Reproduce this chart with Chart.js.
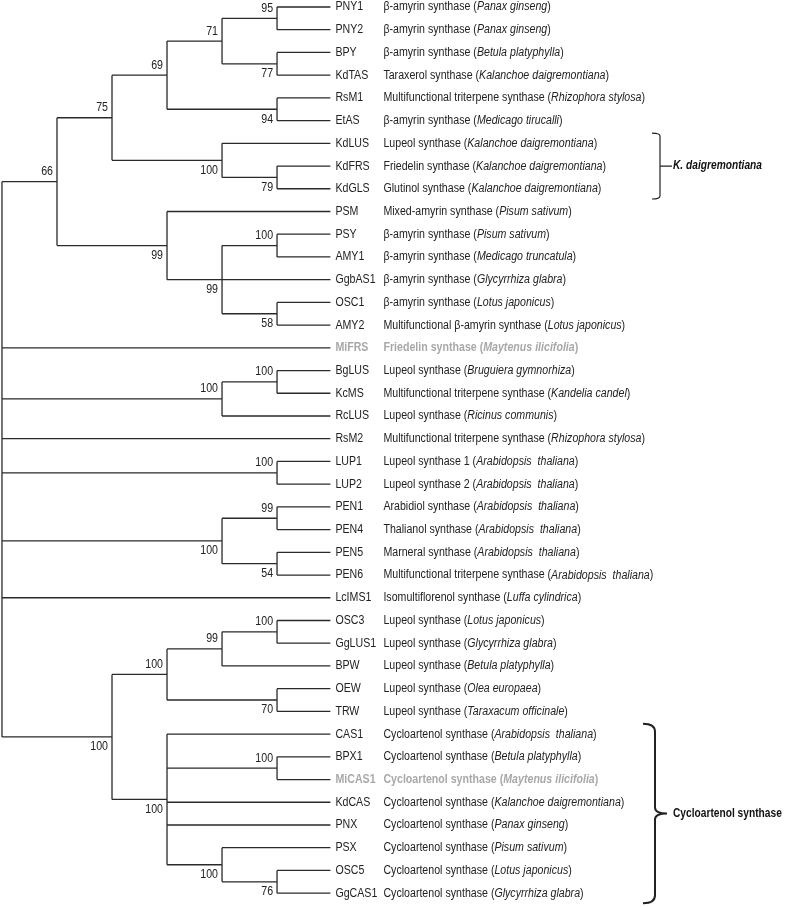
<!DOCTYPE html>
<html>
<head>
<meta charset="utf-8">
<script src="https://cdn.jsdelivr.net/npm/chart.js@4"></script>
<style>
  body { margin: 0; background: #fff; }
  canvas { display: block; }
</style>
</head>
<body>
<canvas id="tree" width="787" height="907"></canvas>
<script>
// leaves, top to bottom
const leafNames = ['PNY1', 'PNY2', 'BPY', 'KdTAS', 'RsM1', 'EtAS', 'KdLUS', 'KdFRS', 'KdGLS', 'PSM',
  'PSY', 'AMY1', 'GgbAS1', 'OSC1', 'AMY2', 'MiFRS', 'BgLUS', 'KcMS', 'RcLUS', 'RsM2',
  'LUP1', 'LUP2', 'PEN1', 'PEN4', 'PEN5', 'PEN6', 'LcIMS1', 'OSC3', 'GgLUS1', 'BPW',
  'OEW', 'TRW', 'CAS1', 'BPX1', 'MiCAS1', 'KdCAS', 'PNX', 'PSX', 'OSC5', 'GgCAS1'];

const enzymes = ['β-amyrin synthase', 'β-amyrin synthase', 'β-amyrin synthase', 'Taraxerol synthase',
  'Multifunctional triterpene synthase', 'β-amyrin synthase', 'Lupeol synthase', 'Friedelin synthase',
  'Glutinol synthase', 'Mixed-amyrin synthase', 'β-amyrin synthase', 'β-amyrin synthase',
  'β-amyrin synthase', 'β-amyrin synthase', 'Multifunctional β-amyrin synthase', 'Friedelin synthase',
  'Lupeol synthase', 'Multifunctional triterpene synthase', 'Lupeol synthase', 'Multifunctional triterpene synthase',
  'Lupeol synthase 1', 'Lupeol synthase 2', 'Arabidiol synthase', 'Thalianol synthase',
  'Marneral synthase', 'Multifunctional triterpene synthase', 'Isomultiflorenol synthase', 'Lupeol synthase',
  'Lupeol synthase', 'Lupeol synthase', 'Lupeol synthase', 'Lupeol synthase',
  'Cycloartenol synthase', 'Cycloartenol synthase', 'Cycloartenol synthase', 'Cycloartenol synthase',
  'Cycloartenol synthase', 'Cycloartenol synthase', 'Cycloartenol synthase', 'Cycloartenol synthase'];

const species = ['Panax ginseng', 'Panax ginseng', 'Betula platyphylla', 'Kalanchoe daigremontiana',
  'Rhizophora stylosa', 'Medicago tirucalli', 'Kalanchoe daigremontiana', 'Kalanchoe daigremontiana',
  'Kalanchoe daigremontiana', 'Pisum sativum', 'Pisum sativum', 'Medicago truncatula',
  'Glycyrrhiza glabra', 'Lotus japonicus', 'Lotus japonicus', 'Maytenus ilicifolia',
  'Bruguiera gymnorhiza', 'Kandelia candel', 'Ricinus communis', 'Rhizophora stylosa',
  'Arabidopsis  thaliana', 'Arabidopsis  thaliana', 'Arabidopsis  thaliana', 'Arabidopsis  thaliana',
  'Arabidopsis  thaliana', 'Arabidopsis  thaliana', 'Luffa cylindrica', 'Lotus japonicus',
  'Glycyrrhiza glabra', 'Betula platyphylla', 'Olea europaea', 'Taraxacum officinale',
  'Arabidopsis  thaliana', 'Betula platyphylla', 'Maytenus ilicifolia', 'Kalanchoe daigremontiana',
  'Panax ginseng', 'Pisum sativum', 'Lotus japonicus', 'Glycyrrhiza glabra'];

const greyLeaves = ['MiFRS', 'MiCAS1'];

// internal node each leaf hangs from
const leafParent = [5, 5, 6, 6, 7, 7, 8, 9, 9, 10, 12, 12, 11, 13, 13, 0, 15, 15, 14, 0,
  16, 16, 18, 18, 19, 19, 0, 23, 23, 22, 24, 24, 25, 26, 26, 25, 25, 27, 28, 28];

// internal nodes (0 = root): parent, depth, bootstrap, side of the value
const nodeParent = [null, 0, 1, 2, 3, 4, 4, 3, 2, 8, 1, 10, 11, 11, 0, 14, 0, 0, 17, 17, 0, 20, 21, 22, 21, 20, 25, 25, 27];
const nodeDepth = [0, 1, 2, 3, 4, 5, 5, 5, 4, 5, 3, 4, 5, 5, 4, 5, 5, 4, 5, 5, 2, 3, 4, 5, 5, 3, 5, 4, 5];
const bootstrap = [null, 66, 75, 69, 71, 95, 77, 94, 100, 79, 99, 99, 100, 58, 100, 100, 100, 100, 99, 54, 100, 100, 99, 100, 70, 100, 100, 100, 76];
const labelSide = ['', 'a', 'a', 'a', 'a', 'a', 'b', 'b', 'b', 'b', 'b', 'b', 'a', 'b', 'a', 'a', 'a', 'b', 'a', 'b', 'b', 'a', 'a', 'a', 'b', 'b', 'a', 'b', 'b'];
const tipDepth = 5.97;

const groups = [
  { label: 'K. daigremontiana', first: 'KdLUS', last: 'KdGLS', italic: true, curly: false },
  { label: 'Cycloartenol synthase', first: 'CAS1', last: 'GgCAS1', italic: false, curly: true }
];

document.addEventListener('DOMContentLoaded', () => {
  const ctx = document.getElementById('tree').getContext('2d');
  const FONT = '"Liberation Sans", Arial, sans-serif';
  const SIZE = '12.5px ';
  const SX = 0.85; // the figure uses a narrow face, squeeze the text a bit

  // y of every internal node = middle of its outermost children
  const nodeY = [];
  const nodeMin = [];
  const nodeMax = [];
  function placeNode(n) {
    if (nodeY[n] !== undefined) return nodeY[n];
    const ys = [];
    leafParent.forEach((p, i) => { if (p === n) ys.push(i); });
    nodeParent.forEach((p, k) => { if (p === n) ys.push(placeNode(k)); });
    nodeMin[n] = Math.min(...ys);
    nodeMax[n] = Math.max(...ys);
    nodeY[n] = (nodeMin[n] + nodeMax[n]) / 2;
    return nodeY[n];
  }
  nodeParent.forEach((p, n) => placeNode(n));

  // branches as one broken line
  const segments = [];
  const gap = { x: null, y: null };
  leafParent.forEach((p, i) => {
    segments.push({ x: nodeDepth[p], y: i }, { x: tipDepth, y: i }, gap);
  });
  nodeParent.forEach((p, n) => {
    if (p !== null) segments.push({ x: nodeDepth[p], y: nodeY[n] }, { x: nodeDepth[n], y: nodeY[n] }, gap);
    segments.push({ x: nodeDepth[n], y: nodeMin[n] }, { x: nodeDepth[n], y: nodeMax[n] }, gap);
  });

  // draws squeezed text, returns its width on screen
  function put(c, text, x, y, align) {
    const w = c.measureText(text).width * SX;
    const left = align === 'right' ? x - w : x;
    c.save();
    c.translate(left, y);
    c.scale(SX, 1);
    c.textAlign = 'left';
    c.fillText(text, 0, 0);
    c.restore();
    return w;
  }

  const treeText = {
    id: 'treeText',
    afterDatasetsDraw(chart) {
      const c = chart.ctx;
      const xs = chart.scales.x;
      const ys = chart.scales.y;
      c.save();
      c.textBaseline = 'middle';

      // bootstrap values
      c.fillStyle = '#222';
      c.font = SIZE + FONT;
      bootstrap.forEach((b, n) => {
        if (b === null) return;
        const px = xs.getPixelForValue(nodeDepth[n]) - 4;
        const py = ys.getPixelForValue(nodeY[n]) + (labelSide[n] === 'a' ? -10 : 10);
        put(c, String(b), px, py, 'right');
      });

      // leaf names and descriptions
      const tipX = xs.getPixelForValue(tipDepth);
      leafNames.forEach((name, i) => {
        const py = ys.getPixelForValue(i);
        const grey = greyLeaves.includes(name);
        const weight = grey ? 'bold ' : '';
        c.fillStyle = grey ? '#a8a8a8' : '#222';
        c.font = weight + SIZE + FONT;
        put(c, name, tipX + 5, py);
        let dx = tipX + 53;
        dx += put(c, enzymes[i] + ' (', dx, py);
        c.font = 'italic ' + weight + SIZE + FONT;
        dx += put(c, species[i], dx, py);
        c.font = weight + SIZE + FONT;
        put(c, ')', dx, py);
      });

      // clade brackets
      c.strokeStyle = '#222';
      c.fillStyle = '#111';
      groups.forEach(g => {
        const top = ys.getPixelForValue(leafNames.indexOf(g.first) - 0.45);
        const bot = ys.getPixelForValue(leafNames.indexOf(g.last) + 0.45);
        const mid = (top + bot) / 2;
        c.beginPath();
        if (g.curly) {
          const bx = 655;
          c.lineWidth = 2;
          c.moveTo(bx - 12, top);
          c.quadraticCurveTo(bx, top, bx, top + 8);
          c.lineTo(bx, mid - 6);
          c.quadraticCurveTo(bx, mid, bx + 12, mid);
          c.quadraticCurveTo(bx, mid, bx, mid + 6);
          c.lineTo(bx, bot - 8);
          c.quadraticCurveTo(bx, bot, bx - 12, bot);
        } else {
          const bx = 660;
          c.lineWidth = 1.2;
          c.moveTo(bx - 8, top);
          c.quadraticCurveTo(bx, top, bx, top + 3);
          c.lineTo(bx, bot - 3);
          c.quadraticCurveTo(bx, bot, bx - 8, bot);
          c.moveTo(bx, mid);
          c.lineTo(bx + 12, mid);
        }
        c.stroke();
        c.font = (g.italic ? 'italic ' : '') + 'bold 12px ' + FONT;
        put(c, g.label, 673, mid);
      });
      c.restore();
    }
  };

  new Chart(ctx, {
    type: 'scatter',
    data: {
      datasets: [{
        data: segments,
        showLine: true,
        spanGaps: false,
        borderColor: '#2a2a2a',
        borderWidth: 1.3,
        pointRadius: 0,
        clip: false
      }]
    },
    options: {
      responsive: false,
      animation: false,
      events: [],
      layout: { padding: 0 },
      plugins: { legend: { display: false }, tooltip: { enabled: false } },
      scales: {
        x: { type: 'linear', min: -0.036, max: 14.27, display: false },
        y: { type: 'linear', reverse: true, min: -0.308, max: 39.61, display: false }
      }
    },
    plugins: [treeText]
  });
});
</script>
</body>
</html>
